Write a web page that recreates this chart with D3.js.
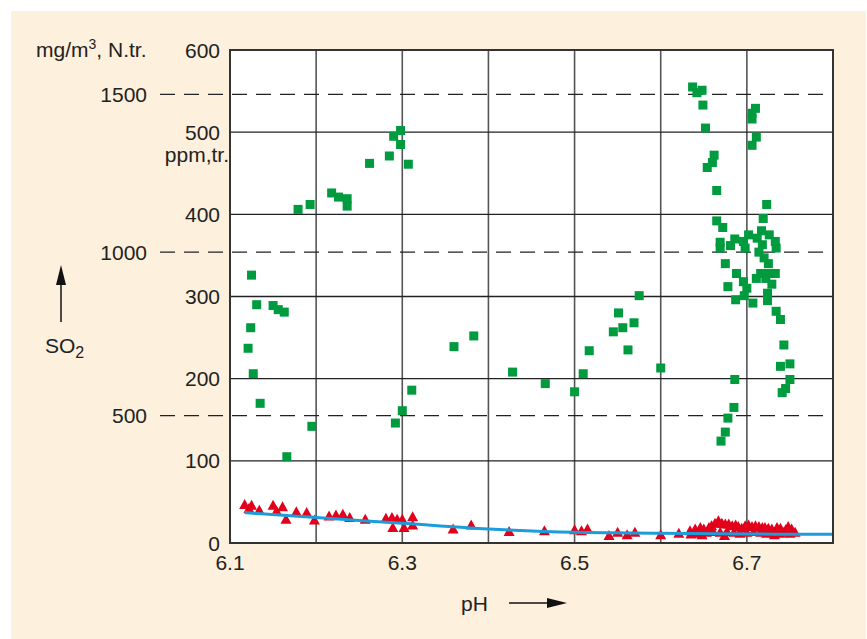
<!DOCTYPE html>
<html>
<head>
<meta charset="utf-8">
<script src="https://cdn.jsdelivr.net/npm/d3@7"></script>
<style>
  body { margin: 0; background: #fff; }
  text { font-family: "Liberation Sans", Arial, sans-serif; fill: #222; }
</style>
</head>
<body>
<svg id="chart" width="867" height="639"></svg>
<script>
// SO2 (ppm) measured against pH
var xTicks = [6.1, 6.2, 6.3, 6.4, 6.5, 6.6, 6.7, 6.8];
var xLabels = ["6.1", "", "6.3", "", "6.5", "", "6.7", ""];
var yTicks = [0, 100, 200, 300, 400, 500, 600];
var mgValues = [500, 1000, 1500];   // mg/m3, N.tr.
var mgAsPpm = [155, 354, 546];      // where they sit on the ppm axis

// green squares
var squarePH = [6.125, 6.131, 6.150, 6.156, 6.163, 6.124, 6.121, 6.127, 6.135, 6.166, 6.195,
  6.179, 6.193, 6.218, 6.226, 6.236, 6.236, 6.262, 6.285, 6.290, 6.298, 6.298, 6.307,
  6.292, 6.300, 6.311, 6.360, 6.383, 6.428, 6.466, 6.500, 6.510, 6.517, 6.545, 6.551,
  6.556, 6.562, 6.569, 6.575, 6.600,
  6.637, 6.642, 6.648, 6.649, 6.652, 6.662, 6.660, 6.654, 6.665, 6.710, 6.706, 6.706,
  6.711, 6.706, 6.723, 6.719, 6.665, 6.672, 6.669, 6.669, 6.681, 6.686, 6.696, 6.702,
  6.698, 6.712, 6.717, 6.718, 6.726, 6.733, 6.734, 6.714, 6.720, 6.725, 6.675, 6.688,
  6.716, 6.733, 6.723, 6.711, 6.696, 6.722, 6.729, 6.678, 6.700, 6.697, 6.687, 6.707,
  6.724, 6.724, 6.734, 6.739, 6.743, 6.739, 6.750, 6.750, 6.745, 6.741, 6.686, 6.685,
  6.678, 6.675, 6.670];
var squarePPM = [326, 290, 289, 284, 281, 262, 237, 206, 170, 105, 142,
  406, 412, 426, 421, 419, 410, 462, 471, 495, 502, 485, 461,
  146, 161, 186, 239, 252, 208, 194, 184, 206, 234, 257, 280,
  262, 235, 268, 301, 213,
  555, 548, 551, 533, 505, 472, 463, 457, 429, 529, 523, 516,
  494, 484, 412, 395, 392, 384, 366, 359, 362, 370, 367, 375,
  359, 371, 380, 363, 375, 367, 359, 354, 347, 340, 340, 328,
  328, 328, 328, 322, 318, 322, 315, 312, 310, 301, 296, 292,
  304, 295, 282, 272, 241, 215, 218, 199, 188, 183, 199, 165,
  152, 135, 124];

// red triangles
var triPH = [6.117, 6.125, 6.122, 6.134, 6.150, 6.154, 6.161, 6.165, 6.177, 6.189, 6.198,
  6.215, 6.223, 6.231, 6.239, 6.257, 6.281, 6.288, 6.289, 6.294, 6.300, 6.302, 6.312,
  6.312, 6.359, 6.380, 6.424, 6.465, 6.500, 6.508, 6.515, 6.540, 6.550, 6.561, 6.570,
  6.600, 6.621, 6.635, 6.648, 6.674, 6.732,
  6.634, 6.640, 6.646, 6.650, 6.656, 6.659, 6.663, 6.667, 6.671, 6.675, 6.679, 6.683,
  6.687, 6.690, 6.694, 6.698, 6.702, 6.706, 6.710, 6.714, 6.718, 6.721, 6.725, 6.729,
  6.735, 6.739, 6.745, 6.748, 6.752, 6.756,
  6.643, 6.653, 6.661, 6.669, 6.677, 6.685, 6.692, 6.700, 6.708, 6.716, 6.723, 6.731,
  6.738, 6.743, 6.750];
var triPPM = [47, 46, 42, 40, 46, 39, 44, 29, 38, 37, 28,
  33, 34, 35, 31, 29, 30, 31, 19, 29, 29, 19, 32,
  22, 17, 22, 14, 15, 16, 15, 17, 9, 13, 10, 13,
  10, 12, 11, 10, 9, 10,
  15, 17, 19, 17, 19, 21, 24, 27, 24, 23, 23, 21,
  22, 20, 18, 21, 22, 20, 21, 20, 19, 19, 18, 17,
  19, 18, 16, 20, 17, 13,
  12, 13, 14, 13, 14, 13, 12, 13, 14, 13, 12, 13,
  12, 13, 12];

// fitted blue line
var fitPH = [6.117, 6.2, 6.3, 6.4, 6.5, 6.6, 6.7, 6.8];
var fitPPM = [37, 31, 24, 17, 13, 12, 11, 10.5];

var svg = d3.select("#chart");

svg.append("rect")
    .attr("x", 11).attr("y", 11)
    .attr("width", 855).attr("height", 628)
    .attr("fill", "#fdf0dc");

var x = d3.scaleLinear().domain([6.1, 6.8]).range([230, 833]);
var y = d3.scaleLinear().domain([0, 600]).range([543, 50]);

svg.append("rect")
    .attr("x", x(6.1)).attr("y", y(600))
    .attr("width", x(6.8) - x(6.1)).attr("height", y(0) - y(600))
    .attr("fill", "#fff");

// grid
svg.append("g").selectAll("line")
    .data(xTicks.slice(1, -1))
    .join("line")
    .attr("x1", d => x(d)).attr("x2", d => x(d))
    .attr("y1", y(600)).attr("y2", y(0))
    .attr("stroke", "#555").attr("stroke-width", 1.6);

svg.append("g").selectAll("line")
    .data(yTicks.slice(1, -1))
    .join("line")
    .attr("x1", x(6.1)).attr("x2", x(6.8))
    .attr("y1", d => y(d)).attr("y2", d => y(d))
    .attr("stroke", "#222").attr("stroke-width", 1.3);

// mg/m3 dashed lines
svg.append("g").selectAll("line")
    .data(mgAsPpm)
    .join("line")
    .attr("x1", 160).attr("x2", x(6.8))
    .attr("y1", d => y(d)).attr("y2", d => y(d))
    .attr("stroke", "#222").attr("stroke-width", 1.3)
    .attr("stroke-dasharray", "15,9");

svg.append("g").selectAll("text")
    .data(mgValues)
    .join("text")
    .attr("x", 147).attr("y", (d, i) => y(mgAsPpm[i]))
    .attr("dy", "0.36em")
    .attr("text-anchor", "end")
    .style("font-size", "21px")
    .text(d => d);

// ppm labels
svg.append("g").selectAll("text")
    .data(yTicks)
    .join("text")
    .attr("x", 220).attr("y", d => y(d))
    .attr("dy", "0.36em")
    .attr("text-anchor", "end")
    .style("font-size", "21px")
    .text(d => d);

svg.append("text")
    .attr("x", 229).attr("y", 162)
    .attr("text-anchor", "end")
    .style("font-size", "21px")
    .text("ppm,tr.");

var mg = svg.append("text")
    .attr("x", 36).attr("y", 57)
    .style("font-size", "21px");
mg.append("tspan").text("mg/m");
mg.append("tspan").attr("dy", -8).style("font-size", "14px").text("3");
mg.append("tspan").attr("dy", 8).text(", N.tr.");

// x labels
svg.append("g").selectAll("text")
    .data(xTicks)
    .join("text")
    .attr("x", d => x(d)).attr("y", 570)
    .attr("text-anchor", "middle")
    .style("font-size", "21px")
    .text((d, i) => xLabels[i]);

// points
svg.append("g").selectAll("rect")
    .data(squarePH)
    .join("rect")
    .attr("x", d => x(d) - 4.5)
    .attr("y", (d, i) => y(squarePPM[i]) - 4.5)
    .attr("width", 9).attr("height", 9)
    .attr("fill", "#009b3f");

svg.append("g").selectAll("path")
    .data(triPH)
    .join("path")
    .attr("d", "M0,-5.5L5.5,4.5L-5.5,4.5Z")
    .attr("transform", (d, i) => "translate(" + x(d) + "," + y(triPPM[i]) + ")")
    .attr("fill", "#e2001a");

var line = d3.line()
    .x((d, i) => x(d))
    .y((d, i) => y(fitPPM[i]))
    .curve(d3.curveMonotoneX);

svg.append("path")
    .datum(fitPH)
    .attr("d", line)
    .attr("fill", "none")
    .attr("stroke", "#1b9ddb")
    .attr("stroke-width", 3);

// frame
svg.append("rect")
    .attr("x", x(6.1)).attr("y", y(600))
    .attr("width", x(6.8) - x(6.1)).attr("height", y(0) - y(600))
    .attr("fill", "none")
    .attr("stroke", "#333").attr("stroke-width", 2);

// SO2 with arrow
svg.append("line")
    .attr("x1", 61).attr("x2", 61).attr("y1", 322).attr("y2", 282)
    .attr("stroke", "#111").attr("stroke-width", 1.5);
svg.append("path")
    .attr("d", "M61,265L66,285L56,285Z")
    .attr("fill", "#111");
var so = svg.append("text")
    .attr("x", 45).attr("y", 353)
    .style("font-size", "21px");
so.append("tspan").text("SO");
so.append("tspan").attr("dy", 5).style("font-size", "16px").text("2");

// pH with arrow
svg.append("text")
    .attr("x", 461).attr("y", 611)
    .style("font-size", "21px")
    .text("pH");
svg.append("line")
    .attr("x1", 509).attr("x2", 552).attr("y1", 603).attr("y2", 603)
    .attr("stroke", "#111").attr("stroke-width", 1.5);
svg.append("path")
    .attr("d", "M567,603L547,598L547,608Z")
    .attr("fill", "#111");
</script>
</body>
</html>
